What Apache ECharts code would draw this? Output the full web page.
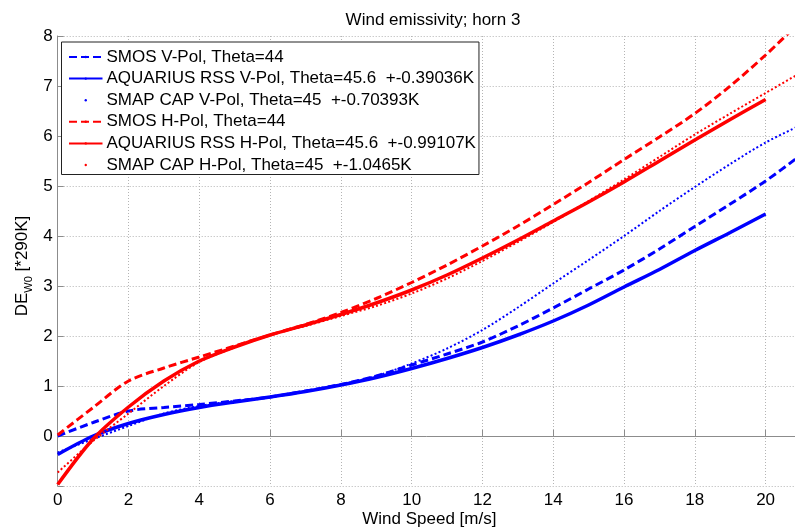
<!DOCTYPE html>
<html>
<head>
<meta charset="utf-8">
<script src="https://cdn.jsdelivr.net/npm/echarts@6/dist/echarts.min.js"></script>
<style>
html,body{margin:0;padding:0;background:#fff;}
#chart{width:795px;height:529px;}
</style>
</head>
<body>
<div id="chart"></div>
<script>
// Wind speed samples [m/s]
var windSpeed    = [0,1,2,3,4,5,6,7,8,9,10,11,12,13,14,15,16,17,18,19,20];
var windSpeedExt = [0,1,2,3,4,5,6,7,8,9,10,11,12,13,14,15,16,17,18,19,20,21];

// DE_W0 [*290K] values
var smosV     = [0.00,0.27,0.50,0.57,0.63,0.70,0.78,0.90,1.03,1.20,1.42,1.64,1.88,2.20,2.56,2.94,3.32,3.74,4.19,4.64,5.10,5.62];
var aquariusV = [-0.37,0.00,0.25,0.43,0.57,0.68,0.78,0.89,1.02,1.17,1.35,1.55,1.77,2.02,2.30,2.62,2.98,3.33,3.71,4.07,4.44];
var smapV     = [-0.33,-0.06,0.20,0.45,0.60,0.70,0.78,0.90,1.03,1.20,1.45,1.75,2.12,2.57,3.05,3.52,4.00,4.50,4.98,5.44,5.87,6.22];
var smosH     = [0.02,0.57,1.10,1.36,1.58,1.80,2.02,2.23,2.47,2.75,3.07,3.42,3.80,4.20,4.63,5.07,5.53,5.98,6.45,7.00,7.62,8.30];
var aquariusH = [-0.97,-0.06,0.58,1.10,1.50,1.78,2.02,2.22,2.43,2.66,2.92,3.22,3.56,3.92,4.30,4.68,5.08,5.50,5.92,6.33,6.73];
var smapH     = [-0.73,-0.10,0.45,1.00,1.48,1.77,2.02,2.20,2.40,2.60,2.85,3.15,3.50,3.88,4.28,4.70,5.13,5.58,6.03,6.45,6.86,7.27];

var seriesNames = [
  'SMOS V-Pol, Theta=44',
  'AQUARIUS RSS V-Pol, Theta=45.6  +-0.39036K',
  'SMAP CAP V-Pol, Theta=45  +-0.70393K',
  'SMOS H-Pol, Theta=44',
  'AQUARIUS RSS H-Pol, Theta=45.6  +-0.99107K',
  'SMAP CAP H-Pol, Theta=45  +-1.0465K'
];
var yTicks = ['0','1','2','3','4','5','6','7','8'];
var xTicks = ['0','2','4','6','8','10','12','14','16','18','20'];

function pairs(xs, ys){ return ys.map(function(v,i){ return [xs[i], v]; }); }

var BLUE = '#0000ff', RED = '#ff0000';
var FONT = 'Liberation Sans';

function mk(name, xs, ys, color, kind){
  var ls = {color: color};
  if (kind === 'dash') { ls.width = 3; ls.type = [8,4]; }
  else if (kind === 'solid') { ls.width = 3.5; ls.type = 'solid'; }
  else { ls.width = 2; ls.type = [2,2.3]; }
  return {
    name: name, type: 'line', data: pairs(xs, ys),
    smooth: 0.3,
    symbol: kind === 'dot' ? 'circle' : 'none',
    symbolSize: 2, showSymbol: false,
    itemStyle: {color: color},
    lineStyle: ls,
    emphasis: {disabled: true},
    animation: false
  };
}

var chart = echarts.init(document.getElementById('chart'), null, {renderer: 'canvas'});
chart.setOption({
  backgroundColor: '#fff',
  animation: false,
  title: {
    text: 'Wind emissivity; horn 3',
    left: 428, top: 7, textAlign: 'center',
    textStyle: {fontFamily: FONT, fontSize: 17, fontWeight: 'normal', color: '#000'}
  },
  grid: {left: 57.7, right: -6, top: 36, bottom: 43, containLabel: false, outerBoundsMode: 'none'},
  legend: {
    orient: 'vertical',
    left: 61.5, top: 42,
    padding: [6.5, 3, 1, 6.5],
    itemWidth: 33.5, itemHeight: 3, itemGap: 4.6,
    backgroundColor: '#fff', borderColor: '#222', borderWidth: 1,
    textStyle: {fontFamily: FONT, fontSize: 17, color: '#000', lineHeight: 17, padding: [0,0,0,-1]},
    selectedMode: false,
    data: [
      {name: seriesNames[0]},
      {name: seriesNames[1]},
      {name: seriesNames[2], lineStyle: {opacity: 0}},
      {name: seriesNames[3]},
      {name: seriesNames[4]},
      {name: seriesNames[5], lineStyle: {opacity: 0}}
    ]
  },
  xAxis: {
    type: 'value', min: 0, max: 21, interval: 2,
    name: 'Wind Speed [m/s]', nameLocation: 'middle', nameGap: 25, nameMoveOverlap: false,
    nameTextStyle: {fontFamily: FONT, fontSize: 17, color: '#000'},
    axisLine: {show: true, lineStyle: {color: '#8c8c8c', width: 1}},
    axisTick: {show: true, inside: true, length: 6, lineStyle: {color: '#8c8c8c'}},
    axisLabel: {fontFamily: FONT, fontSize: 17, color: '#000', margin: 6,
      formatter: function(v){ var s = String(v); return xTicks.indexOf(s) >= 0 ? s : ''; }},
    splitLine: {show: true, lineStyle: {color: '#b4b4b4', type: [1,2], width: 1}}
  },
  yAxis: {
    type: 'value', min: -1, max: 8, interval: 1,
    name: '{a|DE}{s|W0}{a| [*290K]}{p|}', nameLocation: 'middle', nameGap: 23, nameRotate: 90,
    nameMoveOverlap: false,
    nameTextStyle: {
      fontFamily: FONT, fontSize: 17, color: '#000',
      rich: {
        a: {fontFamily: FONT, fontSize: 17, color: '#000', lineHeight: 24},
        s: {fontFamily: FONT, fontSize: 11, color: '#000', lineHeight: 11, verticalAlign: 'bottom'},
        p: {width: 10, lineHeight: 24}
      }
    },
    axisLine: {show: true, lineStyle: {color: '#8c8c8c', width: 1}},
    axisTick: {show: true, inside: true, length: 6, lineStyle: {color: '#8c8c8c'}},
    axisLabel: {fontFamily: FONT, fontSize: 17, color: '#000', margin: 5,
      formatter: function(v){ var s = String(v); return yTicks.indexOf(s) >= 0 ? s : ''; }},
    splitLine: {show: true, lineStyle: {color: '#b4b4b4', type: [1,2], width: 1}}
  },
  series: [
    mk(seriesNames[0], windSpeedExt, smosV, BLUE, 'dash'),
    mk(seriesNames[1], windSpeed, aquariusV, BLUE, 'solid'),
    mk(seriesNames[2], windSpeedExt, smapV, BLUE, 'dot'),
    mk(seriesNames[3], windSpeedExt, smosH, RED, 'dash'),
    mk(seriesNames[4], windSpeed, aquariusH, RED, 'solid'),
    mk(seriesNames[5], windSpeedExt, smapH, RED, 'dot')
  ]
});
</script>
</body>
</html>
